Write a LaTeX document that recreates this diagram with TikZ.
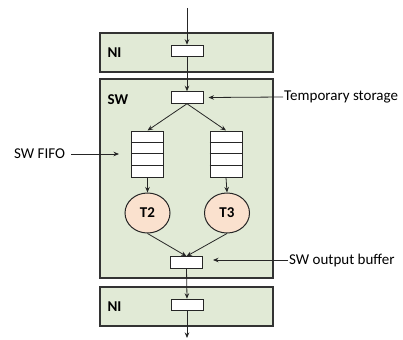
\documentclass[tikz,border=0pt]{standalone}
\usepackage{fontspec}
\setmainfont{Carlito}
\usetikzlibrary{shapes.geometric,arrows.meta}
\definecolor{boxgreen}{HTML}{E1EAD6}
\definecolor{taskpeach}{HTML}{FAE1CE}
\newcommand{\diagfont}{\fontsize{15}{17}\selectfont}
\tikzset{
    block/.style={draw=black!80, line width=1.3pt, fill=boxgreen, minimum width=173pt},
    buffer/.style={draw=black!85, line width=1pt, fill=white, minimum width=32pt, minimum height=11.5pt, inner sep=0pt},
    fifo/.style={draw=black!85, line width=1pt, fill=white, minimum width=32pt, minimum height=46pt, inner sep=0pt},
    task/.style={ellipse, draw=black!85, line width=1pt, fill=taskpeach, minimum width=45pt, minimum height=40pt, inner sep=0pt, font=\diagfont\bfseries},
    blocklabel/.style={font=\diagfont\bfseries, anchor=west},
    note/.style={anchor=west, inner sep=1pt, font=\diagfont},
    flow/.style={-{Stealth[length=5.5pt,width=4.5pt]}, line width=0.8pt, black!85}
}
\begin{document}
\begin{tikzpicture}[x=1pt, y=-1pt]
    \useasboundingbox (0,0) rectangle (403,339);
    % Blocks
    \node[block, minimum height=39pt] (niTop) at (186.5,52.5) {};
    \node[block, minimum height=199pt] (sw) at (186.5,178.5) {};
    \node[block, minimum height=39pt] (niBot) at (186.5,306.5) {};
    \node[blocklabel] (niTopLbl) at (104,53) {NI};
    \node[blocklabel] (swLbl) at (104,100) {SW};
    \node[blocklabel] (niBotLbl) at (104,307) {NI};
    % Buffers
    \node[buffer] (bufIn) at (187,51) {};
    \node[buffer] (bufTmp) at (187,97.5) {};
    \node[buffer] (bufOut) at (186.5,262.5) {};
    \node[buffer] (bufNi) at (187,305) {};
    % FIFOs
    \foreach \name/\x in {fifoL/147.5,fifoR/226}{
        \node[fifo] (\name) at (\x,154) {};
        \foreach \i in {1,2,3}
            \draw[black!85, line width=1pt] (\name.north west) ++(0,{\i*11.5}) -- ++(32,0);
    }
    % Tasks
    \node[task] (t2) at (147.5,213) {T2};
    \node[task] (t3) at (227,213) {T3};
    % Ends
    \coordinate (inTop) at (187,8);
    \coordinate (outBot) at (187,338);
    % Data flow
    \draw[flow] (inTop) -- (bufIn.north);
    \draw[flow] (bufIn.south) -- (bufTmp.north);
    \draw[flow] (bufTmp.south) -- (fifoL.north);
    \draw[flow] (bufTmp.south) -- (fifoR.north);
    \draw[flow] (fifoL.south) -- (t2.north);
    \draw[flow] (fifoR.south) -- (t3.north);
    \draw[flow] (t2.south) -- (bufOut.north);
    \draw[flow] (t3.south) -- (bufOut.north);
    \draw[flow] (bufOut.south) -- (bufNi.north);
    \draw[flow] (bufNi.south) -- (outBot);
    % Notes
    \node[note] (tmpNote) at (283,97) {Temporary storage};
    \node[note] (fifoNote) at (13,154) {SW FIFO};
    \node[note] (outNote) at (288,260) {SW output buffer};
    \draw[flow] (tmpNote.west) -- ([xshift=5pt]bufTmp.east);
    \draw[flow] (fifoNote.east) ++(5,0) -- ([xshift=-12pt]fifoL.west);
    \draw[flow] (outNote.west) -- ([xshift=10pt]bufOut.east |- outNote.west);
\end{tikzpicture}
\end{document}
